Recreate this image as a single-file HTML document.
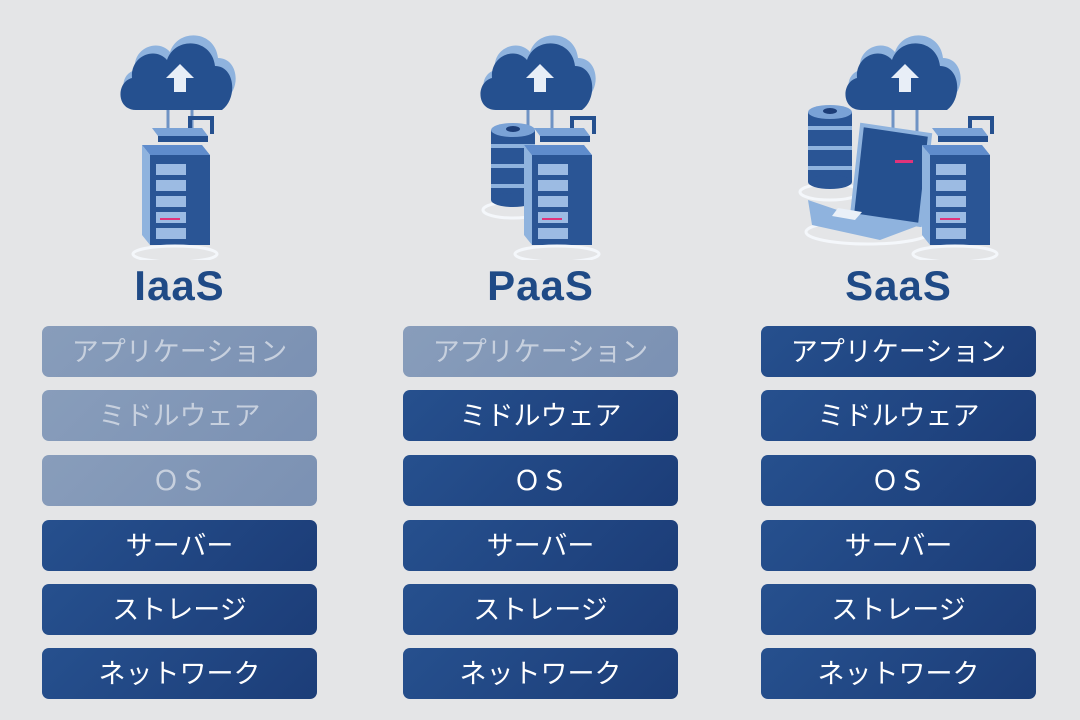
<!DOCTYPE html>
<html><head><meta charset="utf-8"><style>
body{margin:0;width:1080px;height:720px;background:#e4e5e7;position:relative;overflow:hidden;font-family:"Liberation Sans","Noto Sans CJK JP",sans-serif}
.t{position:absolute;width:275px;text-align:center;top:262px;font-size:42px;font-weight:bold;color:#1f4a86;letter-spacing:1px}
.b{position:absolute;width:275px;height:51px;border-radius:7px;background:linear-gradient(135deg,#26508e,#1c3d78);color:#fff;font-size:27px;line-height:53px;text-align:center}
.g{background:linear-gradient(135deg,#889dbb,#7b91b3);color:#c7d0de}
svg{position:absolute;left:0;top:0}
</style></head><body>
<svg width="1080" height="260" viewBox="0 0 1080 260">
<defs>
<g id="cloud">
<path d="M-40,30 C-60,30 -62,5 -45,0 C-48,-22 -22,-32 -10,-18 C-2,-42 35,-40 38,-12 C58,-12 62,18 45,30 Z" fill="#8fb3de"/>
<path d="M-44,40 C-64,40 -64,12 -48,8 C-50,-14 -25,-24 -13,-10 C-5,-34 32,-32 35,-4 C55,-4 58,28 42,40 Z" fill="#25508f"/>
<path d="M-6,22 v-14 h-8 l14,-14 l14,14 h-8 v14z" fill="#e8eef7"/>
<line x1="-12" y1="40" x2="-12" y2="60" stroke="#6f93c4" stroke-width="3"/>
<line x1="12" y1="40" x2="12" y2="70" stroke="#6f93c4" stroke-width="3"/>
</g>
<g id="server">
<polygon points="-30,5 30,5 30,95 -30,95" fill="#2a5595"/>
<polygon points="-30,5 30,5 22,-5 -38,-5" fill="#5f8ccc"/>
<polygon points="-38,-5 -30,5 -30,95 -38,85" fill="#8fb3de"/>
<rect x="-24" y="14" width="30" height="11" fill="#9cbbe3"/><rect x="-24" y="30" width="30" height="11" fill="#9cbbe3"/>
<rect x="-24" y="46" width="30" height="11" fill="#9cbbe3"/><rect x="-24" y="62" width="30" height="11" fill="#9cbbe3"/>
<rect x="-24" y="78" width="30" height="11" fill="#9cbbe3"/>
<rect x="-20" y="68" width="20" height="2" fill="#e0337a"/>
<ellipse cx="-5" cy="104" rx="42" ry="8" fill="none" stroke="#f4f7fb" stroke-width="3"/>
<polygon points="-28,-22 22,-22 28,-14 -22,-14" fill="#7aa2d6"/>
<polygon points="-22,-14 28,-14 28,-8 -22,-8" fill="#25508f"/>
<path d="M10,-22 v-10 h22 v16" fill="none" stroke="#25508f" stroke-width="4"/>
</g>
<g id="db">
<ellipse cx="0" cy="80" rx="30" ry="8" fill="none" stroke="#f4f7fb" stroke-width="3"/>
<rect x="-22" y="0" width="44" height="70" fill="#2a5595"/>
<ellipse cx="0" cy="70" rx="22" ry="7" fill="#2a5595"/>
<rect x="-22" y="14" width="44" height="4" fill="#8fb3de"/><rect x="-22" y="34" width="44" height="4" fill="#8fb3de"/><rect x="-22" y="54" width="44" height="4" fill="#8fb3de"/>
<ellipse cx="0" cy="0" rx="22" ry="7" fill="#7aa2d6"/>
<ellipse cx="0" cy="-1" rx="7" ry="3" fill="#1c3d78"/>
</g>
</defs>
<use href="#cloud" x="180" y="70"/>
<use href="#server" x="180" y="150"/>
<use href="#cloud" x="540" y="70"/>
<use href="#db" x="513" y="130"/>
<use href="#server" x="562" y="150"/>
<use href="#cloud" x="905" y="70"/>
<use href="#db" x="830" y="112"/>
<g>
<ellipse cx="868" cy="232" rx="62" ry="12" fill="none" stroke="#f4f7fb" stroke-width="3"/>
<polygon points="862,125 930,135 920,225 852,215" fill="#25508f" stroke="#8fb3de" stroke-width="4"/>
<polygon points="808,200 852,215 920,225 880,240 812,225" fill="#8fb3de"/>
<polygon points="838,208 862,212 855,220 832,216" fill="#eaf0f8"/>
<rect x="895" y="160" width="18" height="3" fill="#e0337a"/>
</g>
<use href="#server" x="960" y="150"/>
</svg>
<div class="t" style="left:42px">IaaS</div>
<div class="t" style="left:403px">PaaS</div>
<div class="t" style="left:761px">SaaS</div>

<div class="b g" style="left:42px;top:326px">アプリケーション</div>
<div class="b g" style="left:42px;top:390px">ミドルウェア</div>
<div class="b g" style="left:42px;top:455px">ＯＳ</div>
<div class="b" style="left:42px;top:520px">サーバー</div>
<div class="b" style="left:42px;top:584px">ストレージ</div>
<div class="b" style="left:42px;top:648px">ネットワーク</div>

<div class="b g" style="left:403px;top:326px">アプリケーション</div>
<div class="b" style="left:403px;top:390px">ミドルウェア</div>
<div class="b" style="left:403px;top:455px">ＯＳ</div>
<div class="b" style="left:403px;top:520px">サーバー</div>
<div class="b" style="left:403px;top:584px">ストレージ</div>
<div class="b" style="left:403px;top:648px">ネットワーク</div>

<div class="b" style="left:761px;top:326px">アプリケーション</div>
<div class="b" style="left:761px;top:390px">ミドルウェア</div>
<div class="b" style="left:761px;top:455px">ＯＳ</div>
<div class="b" style="left:761px;top:520px">サーバー</div>
<div class="b" style="left:761px;top:584px">ストレージ</div>
<div class="b" style="left:761px;top:648px">ネットワーク</div>
</body></html>
